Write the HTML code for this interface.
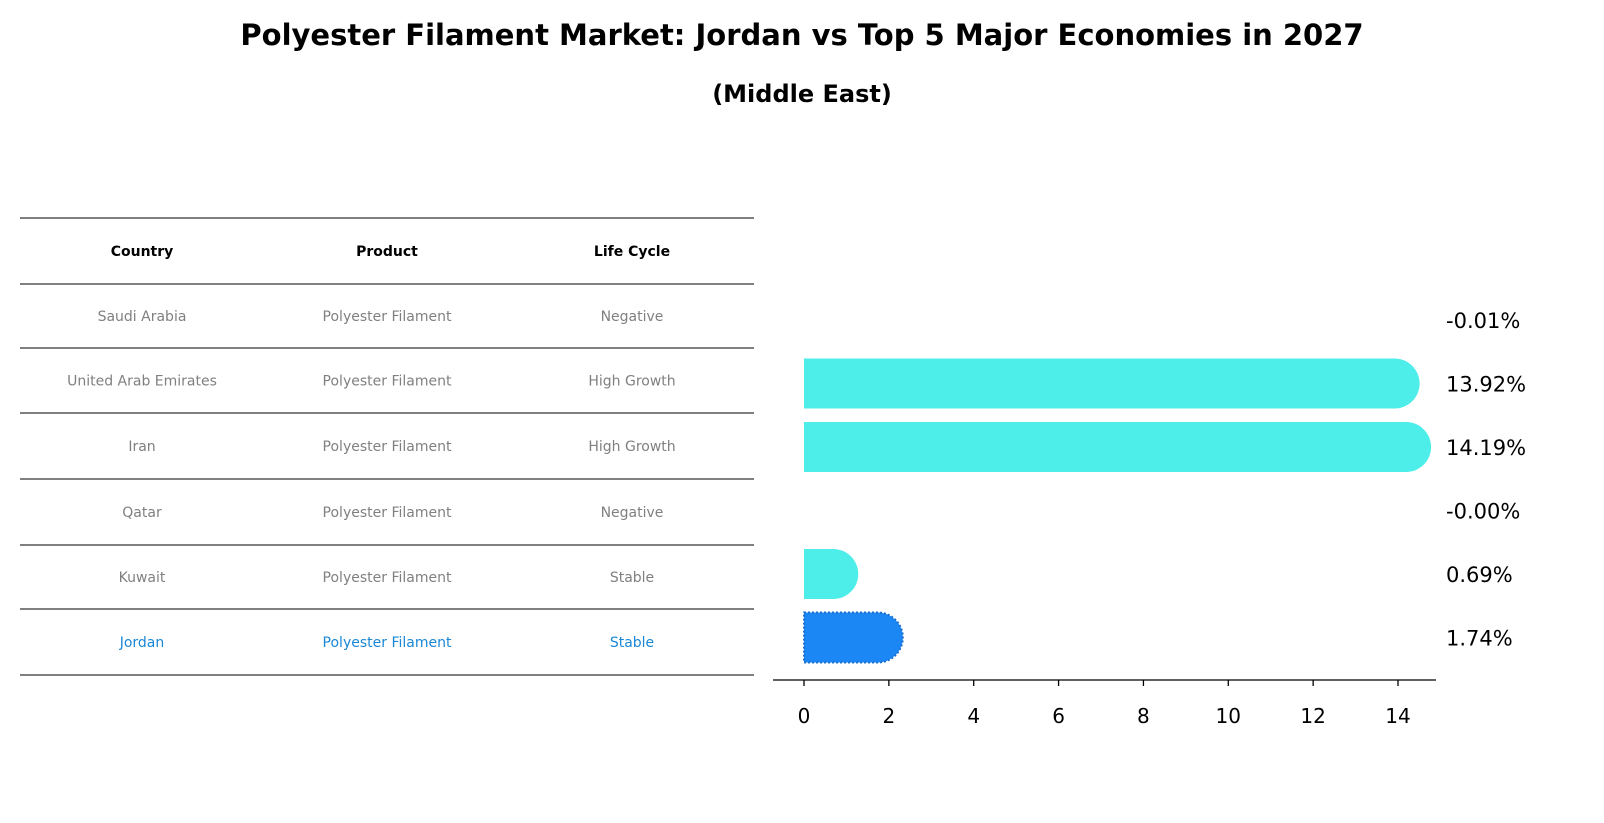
<!DOCTYPE html>
<html><head><meta charset="utf-8"><style>
body{margin:0;background:#fff;font-family:"DejaVu Sans","Liberation Sans",sans-serif;}
#wrap{position:relative;width:1604px;height:823px;overflow:hidden;}
.t{position:absolute;left:0;width:1604px;text-align:center;font-weight:bold;color:#000;}
</style></head><body>
<div id="wrap">
<div class="t" style="top:18px;font-size:29px;">Polyester Filament Market: Jordan vs Top 5 Major Economies in 2027</div>
<div class="t" style="top:80px;font-size:24px;">(Middle East)</div>
<svg id="svg" width="1604" height="823" style="position:absolute;left:0;top:0;font-family:'DejaVu Sans','Liberation Sans',sans-serif"></svg>
</div>
<script>
const countries=["Saudi Arabia","United Arab Emirates","Iran","Qatar","Kuwait","Jordan"];
const products=["Polyester Filament","Polyester Filament","Polyester Filament","Polyester Filament","Polyester Filament","Polyester Filament"];
const lifecycle=["Negative","High Growth","High Growth","Negative","Stable","Stable"];
const values=[-0.01,13.92,14.19,-0.00,0.69,1.74];
const labels=["-0.01%","13.92%","14.19%","-0.00%","0.69%","1.74%"];
const ticks=[0,2,4,6,8,10,12,14];
const NS="http://www.w3.org/2000/svg";
const svg=document.getElementById('svg');
function mk(tag,attrs,txt){const e=document.createElementNS(NS,tag);for(const k in attrs)e.setAttribute(k,attrs[k]);if(txt!==undefined)e.textContent=txt;svg.appendChild(e);return e;}
const x=v=>804+v*(594/14);
const lineYs=[218,284,348,413,479,545,609,675];
lineYs.forEach((y,i)=>{const l=mk('line',{x1:20,x2:754,y1:y,y2:y,stroke:'#000','stroke-width':1});

});
const colX=[142,387,632];
["Country","Product","Life Cycle"].forEach((h,j)=>{const t=mk('text',{x:colX[j],y:256,'text-anchor':'middle','font-size':14,'font-weight':'bold',fill:'#000'},h);

});
countries.forEach((c,i)=>{const y=(lineYs[i+1]+lineYs[i+2])/2+5;const col=c==="Jordan"?'#1a87d6':'#808080';
[c,products[i],lifecycle[i]].forEach((v,j)=>{const t=mk('text',{x:colX[j],y:y,'text-anchor':'middle','font-size':14,fill:col},v);

});});
const h=50,r=25;
values.forEach((v,i)=>{const cy=320+i*63.5;
if(v>0.001){const x0=x(0),x1=x(v);const jor=countries[i]==="Jordan";
const d=`M${x0},${cy-h/2} L${x1},${cy-h/2} A${r},${r} 0 0 1 ${x1},${cy+h/2} L${x0},${cy+h/2} Z`;
const p=mk('path',{d:d,fill:jor?'#1a87f5':'#4deee9',stroke:jor?'#1a6fd0':'none','stroke-width':jor?2:0,'stroke-dasharray':jor?'2,2':''});

}
const t=mk('text',{x:1446,y:cy+8,'font-size':21,fill:'#000'},labels[i]);

});
const ax=mk('line',{x1:773,x2:1436,y1:680,y2:680,stroke:'#000','stroke-width':1.3});


ticks.forEach(v=>{const tk=mk('line',{x1:x(v),x2:x(v),y1:680,y2:686,stroke:'#000','stroke-width':1.3});


const t=mk('text',{x:x(v),y:723,'text-anchor':'middle','font-size':20,fill:'#000'},String(v));

});
</script>
</body></html>
